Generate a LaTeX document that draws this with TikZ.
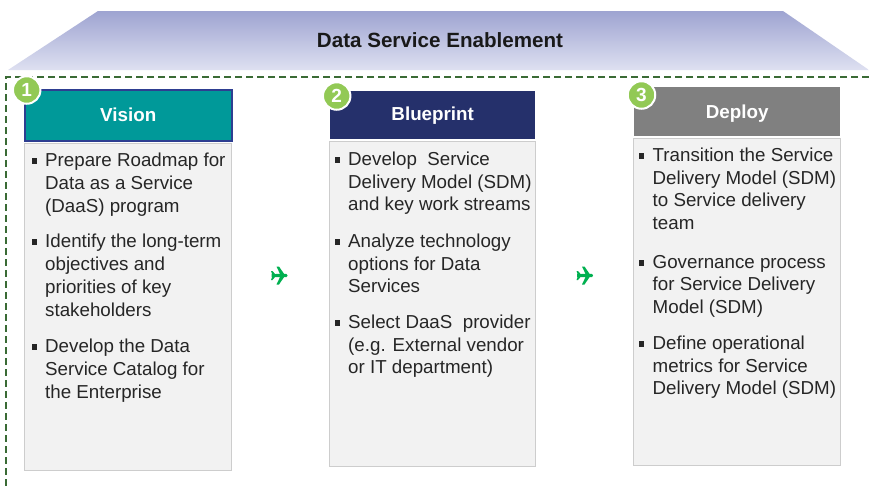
\documentclass[tikz,border=0pt]{standalone}
\usepackage{fontspec}
\setmainfont{Liberation Sans}
\definecolor{dashgreen}{HTML}{3A6B35}
\definecolor{tealhead}{HTML}{009999}
\definecolor{navyhead}{HTML}{25306B}
\definecolor{grayhead}{HTML}{808080}
\definecolor{bodygray}{HTML}{F2F2F2}
\definecolor{bodyline}{HTML}{CDCDCD}
\definecolor{badge}{HTML}{92C955}
\definecolor{planegreen}{HTML}{00B050}
\definecolor{inktext}{HTML}{262626}
\definecolor{visionline}{HTML}{2E3E91}
\definecolor{roofa}{HTML}{9EA4D1}
\definecolor{roofb}{HTML}{DEE0F1}
\tikzset{
  x=1pt,y=-1pt,
  head/.style={font=\fontsize{18.8}{22}\selectfont\bfseries,text=white},
  bodybox/.style={fill=bodygray,draw=bodyline,line width=1.6pt},
  numbadge/.style={circle,fill=badge,draw=white,line width=2pt,minimum size=27.5pt,inner sep=0pt,text=white,font=\fontsize{19}{22}\selectfont\bfseries},
  item/.style={anchor=north west,inner sep=0pt,align=left,text=inktext,font=\fontsize{18.75}{#1}\selectfont},
  item/.default=23,
  bullet/.style={fill=inktext,minimum size=5.5pt,inner sep=0pt,draw=none},
  planeicon/.pic={
    \fill[planegreen] (-8,-1.3) -- (-4,-1.5) -- (0.5,-1.6) -- (-3,-9) -- (-0.5,-9) -- (4.5,-1.7) -- (7,-1.5)
      .. controls (8.5,-1) and (8.5,1) .. (7,1.5) -- (4.5,1.7) -- (-0.5,9) -- (-3,9) -- (0.5,1.6) -- (-4,1.5) -- (-8,1.3) -- cycle;
    \fill[planegreen] (-8.5,-4.5) -- (-7,-4.5) -- (-4,-1) -- (-4,1) -- (-7,4.5) -- (-8.5,4.5) -- (-7,0) -- cycle;
  },
}
\begin{document}
\begin{tikzpicture}
\useasboundingbox (0,0) rectangle (869,488);
\fill[white] (0,0) rectangle (869,488);
\shade[top color=roofa,bottom color=roofb] (98,11) -- (783,11) -- (869,70) -- (8,70) -- cycle;
\node[font=\fontsize{20.6}{22}\selectfont\bfseries,text=black!90] (title) at (440,40) {Data Service Enablement};
\draw[dashgreen,line width=2pt,dash pattern=on 7pt off 4pt] (869,77) -- (6,77) -- (6,488);
% column 1
\draw[bodybox] (24.5,143.5) rectangle (231.5,470.5);
\node[draw=visionline,fill=tealhead,line width=1.5pt,minimum width=207pt,minimum height=51pt,inner sep=0pt,anchor=north west,head] (vision) at (24,89) {Vision};
\node[numbadge] (b1) at (26.7,90) {1};
\foreach \n/\y/\t in {a/153/{Prepare Roadmap for\\Data as a Service\\(DaaS) program},b/234/{Identify the long-term\\objectives and\\priorities of key\\stakeholders},c/339/{Develop the Data\\Service Catalog for\\the Enterprise}}{
  \node[item] (v\n) at (45,\y) {\t};
  \node[bullet] at (34.3,\y+8) {};
}
% column 2
\draw[bodybox] (329.5,141.5) rectangle (535.5,466.5);
\node[fill=navyhead,minimum width=205pt,minimum height=48pt,inner sep=0pt,anchor=north west,head] (blue) at (330,91) {Blueprint};
\node[numbadge] (b2) at (336.7,96) {2};
\foreach \n/\y/\t in {a/152/{Develop~ Service\\Delivery Model (SDM)\\and key work streams},b/234/{Analyze technology\\options for Data\\Services},c/315/{Select DaaS~ provider\\(e.g. External vendor\\or IT department)}}{
  \node[item=22.6] (p\n) at (348,\y) {\t};
  \node[bullet] at (337.3,\y+8) {};
}
% column 3
\draw[bodybox] (633.5,138.5) rectangle (840.5,465.5);
\node[fill=grayhead,minimum width=206pt,minimum height=49pt,inner sep=0pt,anchor=north west,head,text depth=0pt] (dep) at (634,87) {Deploy};
\node[numbadge] (b3) at (641.5,95) {3};
\foreach \n/\y/\t in {a/148/{Transition the Service\\Delivery Model (SDM)\\to Service delivery\\team},b/255/{Governance process\\for Service Delivery\\Model (SDM)},c/336/{Define operational\\metrics for Service\\Delivery Model (SDM)}}{
  \node[item=22.6] (d\n) at (652.5,\y) {\t};
  \node[bullet] at (641.5,\y+8) {};
}
\pic at (279.5,275.5) {planeicon};
\pic at (585,275.5) {planeicon};
\end{tikzpicture}
\end{document}
